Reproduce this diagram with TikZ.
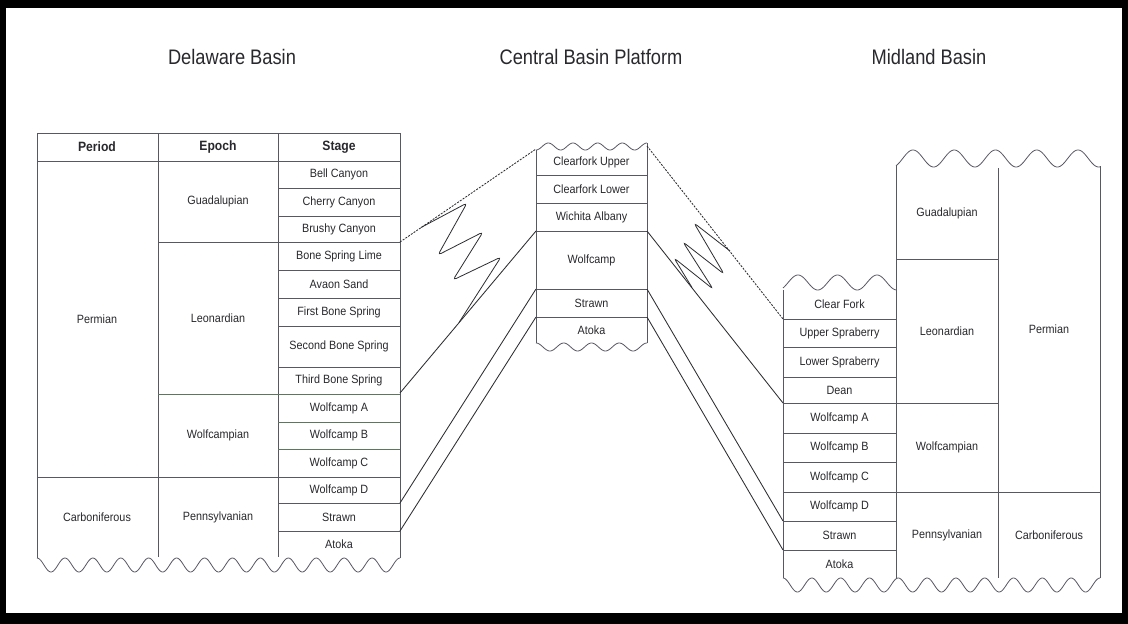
\documentclass[tikz,border=0pt]{standalone}
\usepackage{fontspec}
\setmainfont{Liberation Sans}[FakeStretch=0.9]
\newfontfamily\ttlfam{Liberation Sans}[FakeStretch=0.87]
\definecolor{lc}{RGB}{88,88,100}
\definecolor{lg}{RGB}{92,120,92}
\definecolor{tc}{RGB}{40,40,45}
\definecolor{cc}{RGB}{45,45,50}
\newcommand{\tabfont}{\fontsize{12}{14}\selectfont}
\newcommand{\hdfont}{\fontsize{13.5}{15}\selectfont\bfseries}
\newcommand{\ttfont}{\ttlfam\fontsize{21}{24}\selectfont}
\begin{document}
\begin{tikzpicture}[x=1pt,y=-1pt,
  tline/.style={draw=lc, line width=0.8pt},
  gline/.style={draw=lg, line width=0.8pt},
  wave/.style={draw=lc, line width=0.8pt},
  lbl/.style={font=\tabfont, text=tc, inner sep=0pt, anchor=center},
  hdr/.style={font=\hdfont, text=tc, inner sep=0pt, anchor=center},
  ttl/.style={font=\ttfont, text=tc, inner sep=0pt, anchor=center},
  conn/.style={draw=cc, line width=0.85pt},
  dconn/.style={conn, dash pattern=on 2pt off 1.3pt},
  squig/.style={draw=cc, line width=0.8pt, rounded corners=3.5pt}]
\useasboundingbox (0,0) rectangle (1128,624);
\fill[black] (0,0) rectangle (1128,624);
\fill[white] (6,8) rectangle (1122,613);

% titles
\node[ttl] (tD) at (232,57) {Delaware Basin};
\node[ttl] (tC) at (591,57) {Central Basin Platform};
\node[ttl] (tM) at (929,57) {Midland Basin};

% ---------------- left table (Delaware) ----------------
\draw[tline] (37,558) -- (37,133) -- (400,133) -- (400,558);
\draw[wave] plot[domain=0:363, samples=300] ({37+\x},{565-7*cos(12.8926*\x)});
\draw[tline] (37,161) -- (400,161);
\draw[tline] (158,133) -- (158,557);
\draw[tline] (278,133) -- (278,557);
\foreach \yy in {188,216,270,298,326,367,477,503,531} \draw[tline] (278,\yy) -- (400,\yy);
\foreach \yy in {422,449} \draw[gline] (278,\yy) -- (400,\yy);
\draw[tline] (158,242) -- (400,242);
\draw[gline] (158,394) -- (400,394);
\draw[tline] (37,477) -- (400,477);

\node[hdr] (hP) at (97,147) {Period};
\node[hdr] (hE) at (218,147) {Epoch};
\node[hdr] (hS) at (339,147) {Stage};
\node[lbl] (lPer) at (97,319) {Permian};
\node[lbl] (lCar) at (97,517) {Carboniferous};
\node[lbl] (lGua) at (218,201.5) {Guadalupian};
\node[lbl] (lLeo) at (218,318) {Leonardian};
\node[lbl] (lWol) at (218,435.5) {Wolfcampian};
\node[lbl] (lPen) at (218,517) {Pennsylvanian};
\node[lbl] (s1) at (339,174.5) {Bell Canyon};
\node[lbl] (s2) at (339,202) {Cherry Canyon};
\node[lbl] (s3) at (339,229) {Brushy Canyon};
\node[lbl] (s4) at (339,256) {Bone Spring Lime};
\node[lbl] (s5) at (339,284) {Avaon Sand};
\node[lbl] (s6) at (339,312) {First Bone Spring};
\node[lbl] (s7) at (339,346.5) {Second Bone Spring};
\node[lbl] (s8) at (339,380.5) {Third Bone Spring};
\node[lbl] (s9) at (339,408) {Wolfcamp A};
\node[lbl] (s10) at (339,435.5) {Wolfcamp B};
\node[lbl] (s11) at (339,463) {Wolfcamp C};
\node[lbl] (s12) at (339,490) {Wolfcamp D};
\node[lbl] (s13) at (339,517) {Strawn};
\node[lbl] (s14) at (339,544.5) {Atoka};

% ---------------- central platform ----------------
\draw[tline] (536,150) -- (536,343);
\draw[tline] (647,143) -- (647,343);
\draw[wave] plot[domain=0:111, samples=120] ({536+\x},{146.5+3.5*cos(14.5944*\x)});
\draw[wave] plot[domain=0:111, samples=120] ({536+\x},{347-4*cos(12.9730*\x)});
\foreach \yy in {175,203,231,289,317} \draw[tline] (536,\yy) -- (647,\yy);
\node[lbl] (c1) at (591.5,162) {Clearfork Upper};
\node[lbl] (c2) at (591.5,189) {Clearfork Lower};
\node[lbl] (c3) at (591.5,217) {Wichita Albany};
\node[lbl] (c4) at (591.5,260) {Wolfcamp};
\node[lbl] (c5) at (591.5,303) {Strawn};
\node[lbl] (c6) at (591.5,330.5) {Atoka};

% ---------------- right table (Midland) ----------------
\draw[tline] (783,290) -- (783,578);
\draw[tline] (896,165) -- (896,578);
\draw[tline] (998,168) -- (998,578);
\draw[tline] (1100,166) -- (1100,578);
\draw[wave] plot[domain=0:113, samples=140] ({783+\x},{282.5-7.5*cos(9.1139*(\x-15))});
\draw[wave] plot[domain=0:204, samples=220] ({896+\x},{158.5-8.5*cos(8.7273*(\x-17))});
\draw[wave] plot[domain=0:317, samples=300] ({783+\x},{585-7*cos(12.4922*\x)});
\foreach \yy in {319,347,377,433,462,521,550} \draw[tline] (783,\yy) -- (896,\yy);
\draw[tline] (783,403) -- (998,403);
\draw[tline] (783,492) -- (1100,492);
\draw[tline] (896,259) -- (998,259);

\node[lbl] (mGua) at (947,213) {Guadalupian};
\node[lbl] (mLeo) at (947,331) {Leonardian};
\node[lbl] (mWol) at (947,447.5) {Wolfcampian};
\node[lbl] (mPen) at (947,535) {Pennsylvanian};
\node[lbl] (mPer) at (1049,329) {Permian};
\node[lbl] (mCar) at (1049,535) {Carboniferous};
\node[lbl] (r1) at (839.5,304.5) {Clear Fork};
\node[lbl] (r2) at (839.5,333) {Upper Spraberry};
\node[lbl] (r3) at (839.5,362) {Lower Spraberry};
\node[lbl] (r4) at (839.5,390) {Dean};
\node[lbl] (r5) at (839.5,418) {Wolfcamp A};
\node[lbl] (r6) at (839.5,447.5) {Wolfcamp B};
\node[lbl] (r7) at (839.5,477) {Wolfcamp C};
\node[lbl] (r8) at (839.5,506.5) {Wolfcamp D};
\node[lbl] (r9) at (839.5,535.5) {Strawn};
\node[lbl] (r10) at (839.5,564) {Atoka};

% ---------------- correlation connectors ----------------
\coordinate (La) at (400,242);
\coordinate (Lb) at (400,393);
\coordinate (Lc) at (400,503);
\coordinate (Ld) at (400,531);
\coordinate (Ca) at (536,149);
\coordinate (Cb) at (536,231);
\coordinate (Cc) at (536,289);
\coordinate (Cd) at (536,317);
\coordinate (Da) at (647,146);
\coordinate (Db) at (647,231);
\coordinate (Dc) at (647,289);
\coordinate (Dd) at (647,317);
\coordinate (Ra) at (783,319);
\coordinate (Rb) at (783,403);
\coordinate (Rc) at (783,521);
\coordinate (Rd) at (783,550);

\draw[dconn] (La) -- (Ca);
\draw[conn] (Lb) -- (Cb);
\draw[conn] (Lc) -- (Cc);
\draw[conn] (Ld) -- (Cd);
\draw[dconn] (Da) -- (Ra);
\draw[conn] (Db) -- (Rb);
\draw[conn] (Dc) -- (Rc);
\draw[conn] (Dd) -- (Rd);

% unconformity squiggles
\coordinate (q1s) at (421,227.5);
\coordinate (q1e) at (459,322.5);
\draw[squig] (q1s) -- (467,203) -- (438,255) -- (483,232) -- (453,280) -- (501,257) -- (q1e);
\coordinate (q2s) at (730,251);
\coordinate (q2e) at (692,287.5);
\draw[squig] (q2s) -- (694,223) -- (724,274) -- (683,242) -- (713,289) -- (674,258) -- (q2e);
\end{tikzpicture}
\end{document}
